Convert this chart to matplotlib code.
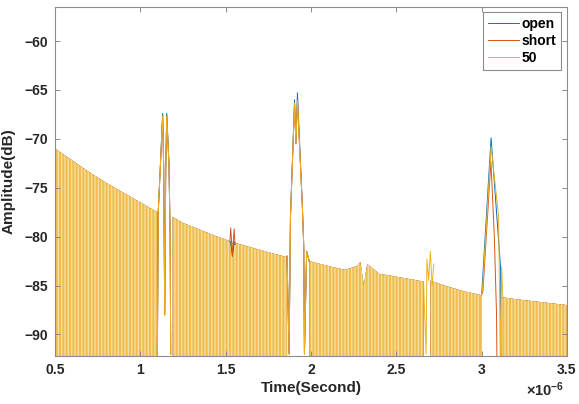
import numpy as np
import matplotlib.pyplot as plt

plt.rcParams['font.family'] = ['Liberation Sans', 'DejaVu Sans']
plt.rcParams['mathtext.default'] = 'regular'
plt.rcParams['hatch.linewidth'] = 0.9

# time in units of 1e-6 s, amplitude in dB
series_names = ['open', 'short', '50']
series_colors = ['#0072BD', '#D95319', '#EDB120']
floor_db = -93.0

# dense ringing "carpet" where the three traces overlap (upper envelope)
seg1_t = [0.50, 0.60, 0.70, 0.80, 0.90, 1.00, 1.10]
seg1_top = [-71.0, -72.2, -73.4, -74.5, -75.5, -76.5, -77.5]
seg2_t = [1.19, 1.25, 1.35, 1.45, 1.55, 1.65, 1.75, 1.86]
seg2_top = [-78.0, -78.6, -79.3, -80.0, -80.6, -81.1, -81.6, -82.1]
seg3_t = [1.99, 2.10, 2.20, 2.27, 2.29, 2.31, 2.33, 2.40, 2.50, 2.60, 2.66]
seg3_top = [-82.5, -83.0, -83.4, -83.0, -82.6, -85.0, -82.8, -83.8, -84.1, -84.4, -84.6]
seg4_t = [2.70, 2.80, 2.90, 3.00]
seg4_top = [-84.5, -85.1, -85.6, -86.0]
seg5_t = [3.12, 3.20, 3.30, 3.40, 3.50]
seg5_top = [-86.2, -86.4, -86.6, -86.8, -87.0]

# reflection peaks, per series
open_a_t = [1.100, 1.105, 1.118, 1.131, 1.137, 1.143, 1.149, 1.155, 1.168, 1.175, 1.178]
open_a_db = [-92.0, -77.5, -72.6, -67.4, -73.0, -88.0, -73.0, -67.4, -72.6, -80.0, -92.0]
open_b_t = [1.860, 1.872, 1.880, 1.904, 1.912, 1.921, 1.950, 1.958, 1.962, 1.975, 1.990]
open_b_db = [-82.0, -92.0, -78.0, -66.0, -70.5, -65.3, -77.0, -81.0, -92.0, -81.5, -82.5]
open_s_t = [1.525, 1.530, 1.540, 1.550, 1.555]
open_s_db = [-80.5, -80.6, -82.0, -80.5, -80.8]
open_c_t = [3.000, 3.004, 3.056, 3.090, 3.112, 3.114]
open_c_db = [-86.0, -85.0, -69.9, -78.0, -83.3, -92.5]

short_a_t = open_a_t
short_a_db = [-92.0, -77.5, -72.6, -67.6, -73.0, -88.0, -73.0, -67.6, -72.6, -80.0, -92.0]
short_b_t = open_b_t
short_b_db = [-82.0, -92.0, -78.0, -66.4, -70.5, -66.0, -77.0, -81.0, -92.0, -81.5, -82.5]
short_s_t = [1.525, 1.530, 1.540, 1.550, 1.555]
short_s_db = [-80.5, -79.1, -82.0, -79.2, -80.8]
short_c_t = [3.000, 3.008, 3.055, 3.075, 3.088, 3.090]
short_c_db = [-86.0, -85.6, -72.3, -80.0, -88.0, -92.5]

y50_a_t = open_a_t
y50_a_db = [-92.0, -77.5, -72.6, -67.7, -73.0, -88.0, -73.0, -67.7, -72.6, -80.0, -92.0]
y50_b_t = open_b_t
y50_b_db = [-82.0, -92.0, -78.0, -66.3, -70.5, -66.1, -77.0, -81.0, -92.0, -81.5, -82.5]
y50_d_t = [2.660, 2.675, 2.680, 2.690, 2.700, 2.710, 2.720]
y50_d_db = [-84.6, -92.0, -82.3, -84.5, -81.5, -85.0, -82.8]
y50_c_t = [3.000, 3.006, 3.056, 3.100, 3.110, 3.118, 3.125]
y50_c_db = [-86.0, -85.3, -70.8, -77.9, -92.5, -83.1, -86.2]

carpets = [(seg1_t, seg1_top), (seg2_t, seg2_top), (seg3_t, seg3_top),
           (seg4_t, seg4_top), (seg5_t, seg5_top)]
peaks = {
    'open': [(open_a_t, open_a_db), (open_b_t, open_b_db), (open_s_t, open_s_db), (open_c_t, open_c_db)],
    'short': [(short_a_t, short_a_db), (short_b_t, short_b_db), (short_s_t, short_s_db), (short_c_t, short_c_db)],
    '50': [(y50_a_t, y50_a_db), (y50_b_t, y50_b_db), (y50_d_t, y50_d_db), (y50_c_t, y50_c_db)],
}
fill_colors = ['#0072BD', '#D95319', '#EFBE4E']
hatch_colors = ['#7FB4DD', '#EBA587', '#F8E0A6']

fig = plt.figure(figsize=(5.79, 4.04), dpi=100)
ax = fig.add_axes([0.095, 0.119, 0.884, 0.864])

for name, col, fcol, hcol in zip(series_names, series_colors, fill_colors, hatch_colors):
    for t, top in carpets:
        ax.fill_between(t, floor_db, top, facecolor=fcol, edgecolor=hcol,
                        hatch='|||||', linewidth=0)
    for i, (t, db) in enumerate(peaks[name]):
        ax.plot(t, db, color=col, lw=0.7, label=name if i == 0 else None)

ax.set_xlim(0.5, 3.5)
ax.set_ylim(-92.2, -56.5)
xticks = [0.5, 1, 1.5, 2, 2.5, 3, 3.5]
ax.set_xticks(xticks)
ax.set_xticklabels(['%g' % v for v in xticks])
ax.set_yticks([-90, -85, -80, -75, -70, -65, -60])
ax.tick_params(direction='in', top=True, right=True, length=3.5, width=0.6,
               labelsize=10, colors='#7a7a7a', labelcolor='#262626', pad=5)
for lab in ax.get_xticklabels() + ax.get_yticklabels():
    lab.set_fontweight('bold')
for sp in ax.spines.values():
    sp.set_color('#8c8c8c')
    sp.set_linewidth(0.8)

ax.set_xlabel('Time(Second)', fontsize=11, fontweight='bold', color='#262626', labelpad=3)
ax.set_ylabel('Amplitude(dB)', fontsize=11, fontweight='bold', color='#262626', labelpad=6)
fig.text(0.942, 0.012, r'$\times$10$^{-6}$', fontsize=10.5, fontweight='bold',
         color='#262626', ha='center', va='bottom')

leg = ax.legend(loc='upper right', fancybox=False, edgecolor='#8c8c8c',
                prop={'weight': 'bold', 'size': 10}, handlelength=2.2,
                handletextpad=0.2, borderpad=0.35, labelspacing=0.2,
                borderaxespad=0.4, framealpha=1)
leg.get_frame().set_linewidth(0.8)

fig.savefig('out.png', dpi=100)
